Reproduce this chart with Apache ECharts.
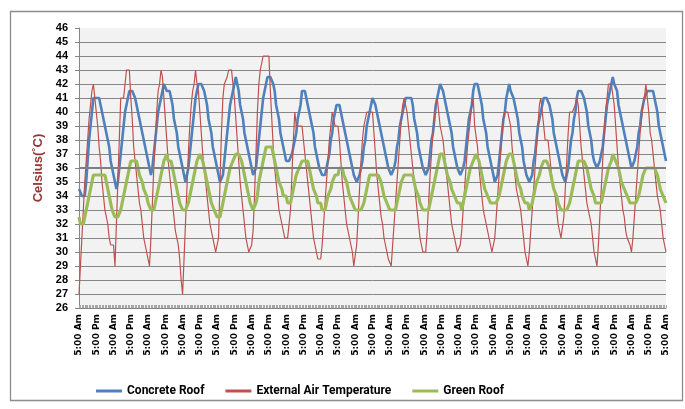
<!DOCTYPE html>
<html><head><meta charset="utf-8">
<script src="https://cdn.jsdelivr.net/npm/echarts@6/dist/echarts.min.js"></script>
<style>html,body{margin:0;padding:0;background:#fff}#c{width:685px;height:409px}</style>
</head><body><div id="c"></div>
<script>
// Hourly readings starting 5:00 Am, 17 days + final reading
const concreteRoof = [
34.5,34.5,34,34,34,35,36.5,38,39,40,41,41,41,41,41,40.5,40,39.5,39,38.5,38,37.5,36.5,36,
35.5,35,34.5,35,36,37,38,39,40,40.5,41,41.5,41.5,41.5,41.5,41,40.5,40,39.5,39,38.5,38,37.5,37,
36.5,36,35.5,36,37,38,39,40,40.5,41,41.5,42,42,41.5,41.5,41.5,41,40.5,39.5,39,38.5,37.5,37,36.5,
36,35.5,35,35,36,37,38,39,40,41,41.5,42,42,42,42,41.5,41,40.5,39.5,39,38.5,37.5,37,36.5,
36,35.5,35,35,35.5,36.5,37.5,38.5,39.5,40.5,41,41.5,42,42.5,42,41.5,40.5,40,39.5,38.5,38,37.5,37,36.5,
36,35.5,35.5,36,37,38,39,40,41,41.5,42,42.5,42.5,42.5,42.5,42,41.5,40.5,40,39.5,38.5,38,37.5,37,
36.5,36.5,36.5,36.5,37,37.5,38,38.5,39.5,40,40.5,41.5,41.5,41.5,41,40.5,40,39.5,39,38.5,37.5,37,36.5,36,
36,35.5,35.5,35.5,36,36.5,37,38,38.5,39.5,40,40.5,40.5,40.5,40,39.5,39,38.5,38,37.5,37,36.5,36,35.5,
35.5,35,35,35.5,36,36.5,37.5,38,39,39.5,40,40.5,41,41,40.5,40,39.5,39,38.5,38,37.5,37,36.5,36,
36,35.5,35.5,36,36.5,37.5,38,39,39.5,40,40.5,41,41,41,41,41,40.5,39.5,39,38.5,37.5,37,36.5,36,
36,35.5,35.5,36,37,38,38.5,39.5,40.5,41,41.5,42,42,41.5,41,40.5,40,39.5,39,38.5,37.5,37,36.5,36,
36,35.5,35.5,36,36.5,37.5,38.5,39.5,40,40.5,41.5,42,42,42,41.5,41,40.5,39.5,39,38.5,37.5,37,36.5,36,
35.5,35,35,35.5,36.5,37.5,38.5,39.5,40,41,41.5,42,41.5,41.5,41,40.5,40,39.5,38.5,38,37.5,36.5,36,35.5,
35.5,35,35,35.5,36.5,37,38,39,39.5,40,40.5,41,41,41,41,40.5,40,39.5,38.5,38,37.5,37,36.5,36,
35.5,35.5,35,35,36,37,38,38.5,39.5,40,41,41.5,41.5,41.5,41.5,41,40.5,40,39,38.5,38,37,36.5,36.5,
36,36,36.5,37,37.5,38.5,39.5,40.5,41,41.5,42,42.5,42,42,41.5,40.5,40,39.5,39,38.5,38,37.5,37,36.5,
36,36,36.5,37,37.5,38.5,39,40,40.5,41,41,41.5,41.5,41.5,41.5,41.5,41,40.5,40,39,38.5,38,37.5,37,
36.5];
const externalAir = [
27,29,31,33,35,36.5,38,39.5,40.5,41.5,42,41,40,39,37.5,36.5,35,34,33,33,32,31,30.5,30.5,
30.5,29,32,35,38,41,41,41,42,43,43,43,41,39.5,37.5,36.5,35.5,34.5,33.5,33,32,31,30.5,30,
29.5,29,31,33.5,36,38,40,41.5,42,43,42.5,41,39.5,38,36.5,35.5,34.5,33.5,32.5,31.5,31,30.5,29.5,28,
27,29.5,32,34.5,37,39,40.5,41.5,42,43,42,41.5,40,38.5,37,36,35,34,33,32,31.5,31,30.5,30,
30,31,35,38.5,41,42,42,42.5,43,43,43,42,41,39.5,38,36.5,35,34,33,32,31,30.5,30,30,
30.5,31.5,34,37,40,42,43,43.5,44,44,44,44,44,41.5,39.5,37.5,36,35,34,33,32.5,32,31.5,31,
31,31,31,33,35.5,38,40,39,39,39,39,39,39,37,36,35,34,33,32,31,30.5,30,29.5,29.5,
29.5,30.5,32,33.5,35,36.5,38,39,40,39.5,39,39,39,38,36.5,35,34,33,32,31.5,31,30.5,30,29,
29,30.5,32.5,34.5,36.5,38,39,39.5,40,40,40,40,40,38.5,37,35.5,34.5,33.5,32.5,32,31,30.5,30,29.5,
29.5,29,30.5,32,33.5,35,36.5,38,39.5,40.5,41,40.5,40,39,38,37,36,35,34,33,32,31,30.5,30,
30,30,31.5,33.5,35.5,37,38.5,39.5,40.5,41,40,39,39,38,37,36,35,34,33,32,31.5,31,30.5,30,
30,30.5,31.5,33,34.5,36,37.5,38.5,39.5,40.5,41,39,39,37.5,36,35,34,33,33,32,31.5,31,30.5,30,
30,31,32.5,34,35.5,37,38.5,39.5,40,40,40,39.5,39,37.5,36.5,35.5,34.5,34,33.5,33,32,31,30,29.5,
29,30,31.5,33,34.5,36,37.5,39,40.5,41,40,39,38,38,38,37,36,35,34.5,34,33,32,31.5,31,
31,32.5,34.5,36.5,38.5,40,40,40,40,40.5,41,40.5,39,37.5,36.5,35.5,34.5,33.5,33,33,32,31,30,29.5,
29,30.5,32.5,34.5,36.5,38.5,40,41,42,42,42,42,40.5,39,37.5,36,35,34,33,32.5,31.5,31,31,30.5,
30,31,32.5,34,35.5,37,38.5,39.5,40.5,41,42,41,40,38.5,38,37,36,35,34,33.5,33,32,31,30.5,
30];
const greenRoof = [
32.5,32,32,32,32.5,33,33.5,34,34.5,35,35.5,35.5,35.5,35.5,35.5,35.5,35.5,35.5,35.5,35,34.5,34,33.5,33,
33,32.5,32.5,32.5,32.5,33,33.5,34,34.5,35,35.5,36,36.5,36.5,36.5,36.5,36.5,36,35.5,35.5,35,34.5,34.5,34,
33.5,33.5,33,33,33,33.5,34,34.5,35,35.5,36,36.5,36.5,37,36.5,36.5,36.5,36,35.5,35,34.5,34,33.5,33.5,
33,33,33,33,33.5,34,34.5,35,35.5,36,36.5,36.5,37,37,36.5,36,35.5,35,34.5,34,33.5,33.5,33,33,
32.5,32.5,32.5,33,33.5,34,34.5,35,35.5,36,36,36.5,36.5,37,37,37,37,36.5,36,35.5,35,34.5,34,33.5,
33.5,33,33,33.5,34,35,35.5,36,36.5,37,37.5,37.5,37.5,37.5,37.5,37,36.5,36,35.5,35,35,34.5,34,34,
34,33.5,33.5,33.5,34,34.5,35,35.5,35.5,36,36,36.5,36.5,36.5,36.5,36.5,36,35.5,35,34.5,34.5,34,33.5,33.5,
33.5,33,33,33,33.5,34,34,34.5,35,35,35.5,35.5,35.5,36,36,36,35.5,35.5,35,34.5,34,34,33.5,33.5,
33,33,33,33,33,33,33.5,34,34.5,35,35.5,35.5,35.5,35.5,35.5,35.5,35.5,35.5,35,34.5,34,34,33.5,33.5,
33,33,33,33,33,33.5,34,34.5,35,35,35.5,35.5,35.5,35.5,35.5,35.5,35.5,35,34.5,34.5,34,33.5,33.5,33,
33,33,33,33,33.5,34,34.5,35,35.5,36,36.5,37,37,37,36.5,36,35.5,35.5,35,34.5,34.5,34,34,33.5,
33.5,33.5,33,33.5,34,34.5,35,35.5,36,36,36.5,36.5,37,37,36.5,36,35.5,35,34.5,34.5,34,34,33.5,33.5,
33.5,33.5,33.5,33.5,34,34.5,35,35.5,36,36.5,36.5,37,37,37,36.5,36,35.5,35,35,34.5,34,34,33.5,33.5,
33.5,33,33,33.5,34,34.5,35,35,35.5,36,36,36.5,36.5,36.5,36.5,36,35.5,35,34.5,34.5,34,33.5,33.5,33,
33,33,33,33,33,33.5,34,34.5,35,35.5,36,36.5,36.5,36.5,36.5,36.5,36.5,36,35.5,35,34.5,34.5,34,33.5,
33.5,33.5,33.5,33.5,34,34.5,35,35.5,36,36,36.5,37,37,36.5,36.5,36,35.5,35,35,34.5,34.5,34,34,33.5,
33.5,33.5,33.5,33.5,33.5,34,34.5,35,35.5,35.5,36,36,36,36,36,36,36,36,35.5,35,34.5,34.5,34,34,
33.5];
const seriesNames = ['Concrete Roof','External Air Temperature','Green Roof'];
const tickLabels = ['5:00 Am','5:00 Pm'];
const startHour = 5;
const yMin = 26, yMax = 46, yStep = 1;

// hourly category names
const categories = concreteRoof.map((_, i) => {
  const h = (startHour + i) % 24;
  if (i % 12 === 0) return tickLabels[(i / 12) % 2];
  const hh = h % 12 === 0 ? 12 : h % 12;
  return hh + ':00 ' + (h < 12 ? 'Am' : 'Pm');
});

const chart = echarts.init(document.getElementById('c'), null, {renderer: 'canvas'});
chart.setOption({
  animation: false,
  backgroundColor: '#fff',
  graphic: [{
    type: 'rect', silent: true, z: -10,
    shape: {x: 10.5, y: 11.5, width: 672, height: 389},
    style: {fill: 'none', stroke: '#8c8c8c', lineWidth: 1.3}
  }],
  grid: {left: 79, right: 19, top: 28, bottom: 101, show: true,
         backgroundColor: '#F2F2F2', borderWidth: 0},
  legend: {
    left: 91, top: 380, itemWidth: 26, itemHeight: 3, itemGap: 21, icon: 'rect',
    textStyle: {fontFamily: 'Roboto', fontWeight: 'bold', fontSize: 12, color: '#000'},
    data: seriesNames
  },
  xAxis: {
    type: 'category', data: categories, boundaryGap: false,
    axisLine: {lineStyle: {color: '#868686', width: 1}},
    axisTick: {show: true, interval: 0, inside: true, length: 3, lineStyle: {color: '#a6a6a6', width: 1}},
    axisLabel: {interval: 11, rotate: 90, margin: 6, fontFamily: 'DejaVu Sans', fontWeight: 'bold',
                fontSize: 9, color: '#000'},
    splitLine: {show: false}
  },
  yAxis: {
    type: 'value', min: yMin, max: yMax, interval: yStep,
    name: 'Celsius(˚C)', nameLocation: 'middle', nameGap: 32,
    nameTextStyle: {color: '#943634', fontFamily: 'Liberation Sans', fontWeight: 'bold', fontSize: 13},
    axisLine: {show: true, lineStyle: {color: '#868686'}},
    axisTick: {show: true, length: 4, lineStyle: {color: '#868686'}},
    axisLabel: {margin: 11, fontFamily: 'Liberation Sans', fontWeight: 'bold', fontSize: 11, color: '#000'},
    splitLine: {show: true, showMaxLine: false, lineStyle: {color: '#868686', width: 1}}
  },
  series: [
    {name: seriesNames[0], type: 'line', data: concreteRoof, symbol: 'none',
     lineStyle: {color: '#4F81BD', width: 2.6}, itemStyle: {color: '#4F81BD'},
     markLine: {silent: true, symbol: 'none', label: {show: false},
                lineStyle: {color: '#7f7f7f', width: 2, type: 'solid'}, data: [{yAxis: 36}]}},
    {name: seriesNames[1], type: 'line', data: externalAir, symbol: 'none',
     lineStyle: {color: '#C0504D', width: 1.2}, itemStyle: {color: '#C0504D'}},
    {name: seriesNames[2], type: 'line', data: greenRoof, symbol: 'none',
     lineStyle: {color: '#9BBB59', width: 3.2}, itemStyle: {color: '#9BBB59'}}
  ]
});
</script>
</body></html>
